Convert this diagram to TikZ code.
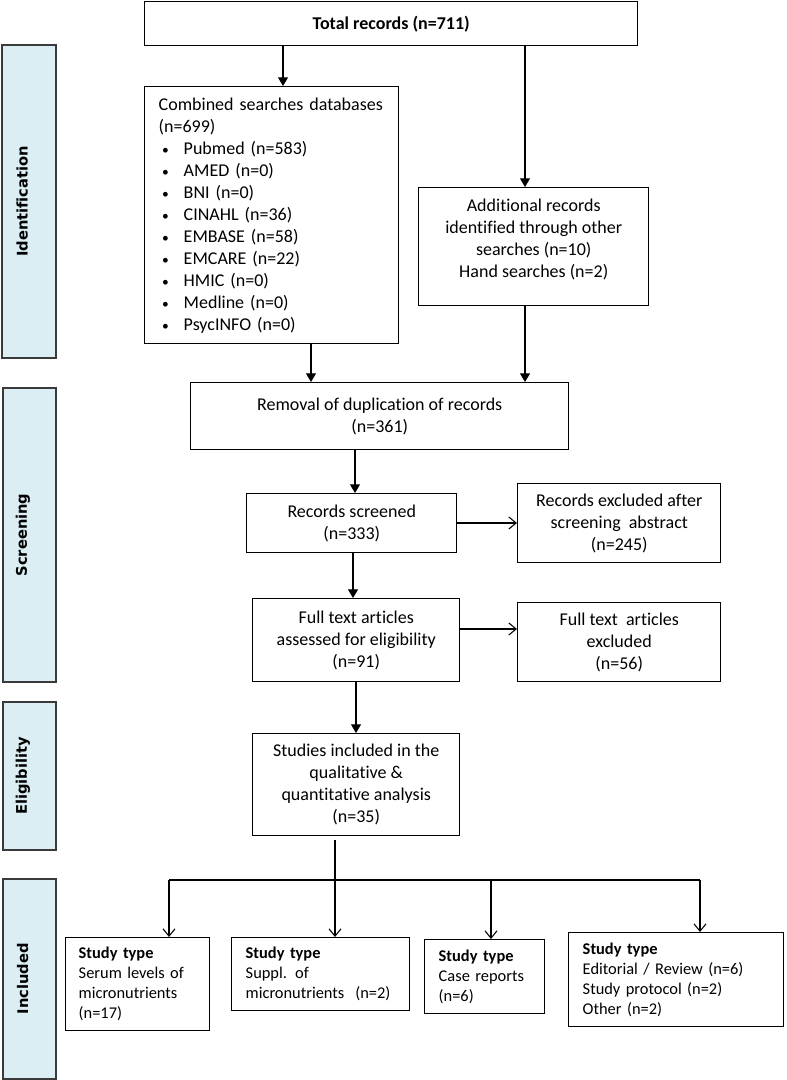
\documentclass[tikz,border=0pt]{standalone}
\usepackage{fontspec}
\setmainfont{Carlito}[Ligatures={NoCommon}]
\newfontfamily\sidefont{DejaVu Sans}[Ligatures={NoCommon}]
\usetikzlibrary{arrows.meta,calc}
\definecolor{sidefill}{HTML}{DAEEF3}
\definecolor{sideline}{HTML}{3A3A3A}
\newcommand{\bul}{\makebox[18.75pt][l]{\hspace{2.6pt}\scalebox{0.75}{\textbullet}}}
\begin{document}
\begin{tikzpicture}[x=0.75pt,y=-0.75pt,
  bx/.style 2 args={minimum width=#1*0.75pt, minimum height=#2*0.75pt},
  box/.style={draw=black, line width=1.1pt, anchor=north west, inner sep=0pt,
    align=center, font=\fontsize{13.5}{16.5}\selectfont},
  lbox/.style={draw=black, line width=1.1pt, anchor=north west, inner ysep=0pt,
    align=left, font=\fontsize{12.3}{15}\selectfont},
  side/.style={draw=sideline, fill=sidefill, line width=1.4pt, anchor=north west, inner sep=0pt},
  sidetext/.style={rotate=90, font=\sidefont\bfseries\fontsize{11}{13}\selectfont, inner sep=0pt},
  conn/.style={line width=0.8pt, draw=black},
  tri/.style={conn, -{Triangle[width=7.5pt,length=6.5pt]}},
  barb/.style={conn, -{Straight Barb[width=9pt,length=5.5pt,line width=0.8pt]}}
]
\useasboundingbox (0,0) rectangle (787,1080);

% side labels
\node[side,bx={54}{313}] (sid) at (1,44) {};
\node[sidetext] (sidt) at ([xshift=-5pt]sid.center) {Identification};
\node[side,bx={53}{294}] (ssc) at (2,387) {};
\node[sidetext] (ssct) at ([xshift=-5pt]ssc.center) {Screening};
\node[side,bx={53}{148}] (sel) at (2,701) {};
\node[sidetext] (selt) at ([xshift=-5pt]sel.center) {Eligibility};
\node[side,bx={53}{200}] (sin) at (2,878) {};
\node[sidetext] (sint) at ([xshift=-5pt]sin.center) {Included};

% main boxes
\node[box,bx={493}{44},font=\fontsize{13.5}{16.5}\selectfont\bfseries] (total) at (144,1) {Total records (n=711)};
\node[box,bx={254}{257},align=left,text width=226*0.75pt,inner xsep=10.5pt] (comb) at (144,86) {%
Combined searches databases\\
(n=699)\\
\bul Pubmed (n=583)\\
\bul AMED (n=0)\\
\bul BNI (n=0)\\
\bul CINAHL (n=36)\\
\bul EMBASE (n=58)\\
\bul EMCARE (n=22)\\
\bul HMIC (n=0)\\
\bul Medline (n=0)\\
\bul PsycINFO (n=0)};
\node[box,bx={230}{118}] (add) at (418,187) {Additional records\\identified through other\\searches (n=10)\\Hand searches (n=2)\\[-4pt]};
\node[box,bx={378}{67}] (rem) at (190,382) {Removal of duplication of records\\(n=361)};
\node[box,bx={210}{59}] (scr) at (246,493) {Records screened\\(n=333)};
\node[box,bx={203}{79}] (exa) at (517,483) {Records excluded after\\screening\ \ abstract\\(n=245)};
\node[box,bx={207}{83}] (ft) at (252,598) {Full text articles\\assessed for eligibility\\(n=91)};
\node[box,bx={203}{79}] (exb) at (517,602) {Full text\ \ articles\\excluded\\(n=56)};
\node[box,bx={207}{102}] (stud) at (252,733) {Studies included in the\\qualitative \&\\quantitative analysis\\(n=35)};

% study type boxes
\node[lbox,bx={144}{93},text width=(144-26)*0.75pt,inner xsep=9.75pt] (s1) at (65,937) {\textbf{Study type}\\Serum levels of\\micronutrients\\(n=17)};
\node[lbox,bx={178}{73},text width=(178-28)*0.75pt,inner xsep=10.5pt] (s2) at (231,937) {\textbf{Study type}\\Suppl. of\\micronutrients\ \ (n=2)};
\node[lbox,bx={120}{74},text width=(120-28)*0.75pt,inner xsep=10.5pt] (s3) at (424,939) {\textbf{Study type}\\Case reports\\(n=6)};
\node[lbox,bx={215}{94},text width=(215-28)*0.75pt,inner xsep=10.5pt] (s4) at (568,932) {\textbf{Study type}\\Editorial / Review (n=6)\\Study protocol (n=2)\\Other (n=2)};

% helper coordinates
\coordinate (xa) at (283,0);
\coordinate (xb) at (525,0);
\coordinate (xc) at (311,0);
\coordinate (xd) at (355,0);
\coordinate (xe) at (353,0);
\coordinate (xf) at (356,0);
\coordinate (xg) at (335,0);
\coordinate (ya) at (0,523);
\coordinate (yb) at (0,629);
\coordinate (j1) at (169,880);
\coordinate (j3) at (491,880);
\coordinate (j4) at (700,880);

% connectors
\draw[tri] (total.south -| xa) -- (comb.north -| xa);
\draw[tri] (total.south -| xb) -- (add.north -| xb);
\draw[tri] (comb.south -| xc) -- (rem.north -| xc);
\draw[tri] (add.south -| xb) -- (rem.north -| xb);
\draw[tri] (rem.south -| xd) -- (scr.north -| xd);
\draw[barb] (scr.east |- ya) -- (exa.west |- ya);
\draw[tri] (scr.south -| xe) -- (ft.north -| xe);
\draw[barb] (ft.east |- yb) -- (exb.west |- yb);
\draw[tri] (ft.south -| xf) -- (stud.north -| xf);
\draw[barb] ([yshift=-3pt]stud.south -| xg) -- (s2.north -| xg);
\draw[conn] (j1) -- (j4);
\draw[barb] (j1) -- (s1.north -| j1);
\draw[barb] (j3) -- (s3.north -| j3);
\draw[barb] (j4) -- (s4.north -| j4);
\end{tikzpicture}
\end{document}
